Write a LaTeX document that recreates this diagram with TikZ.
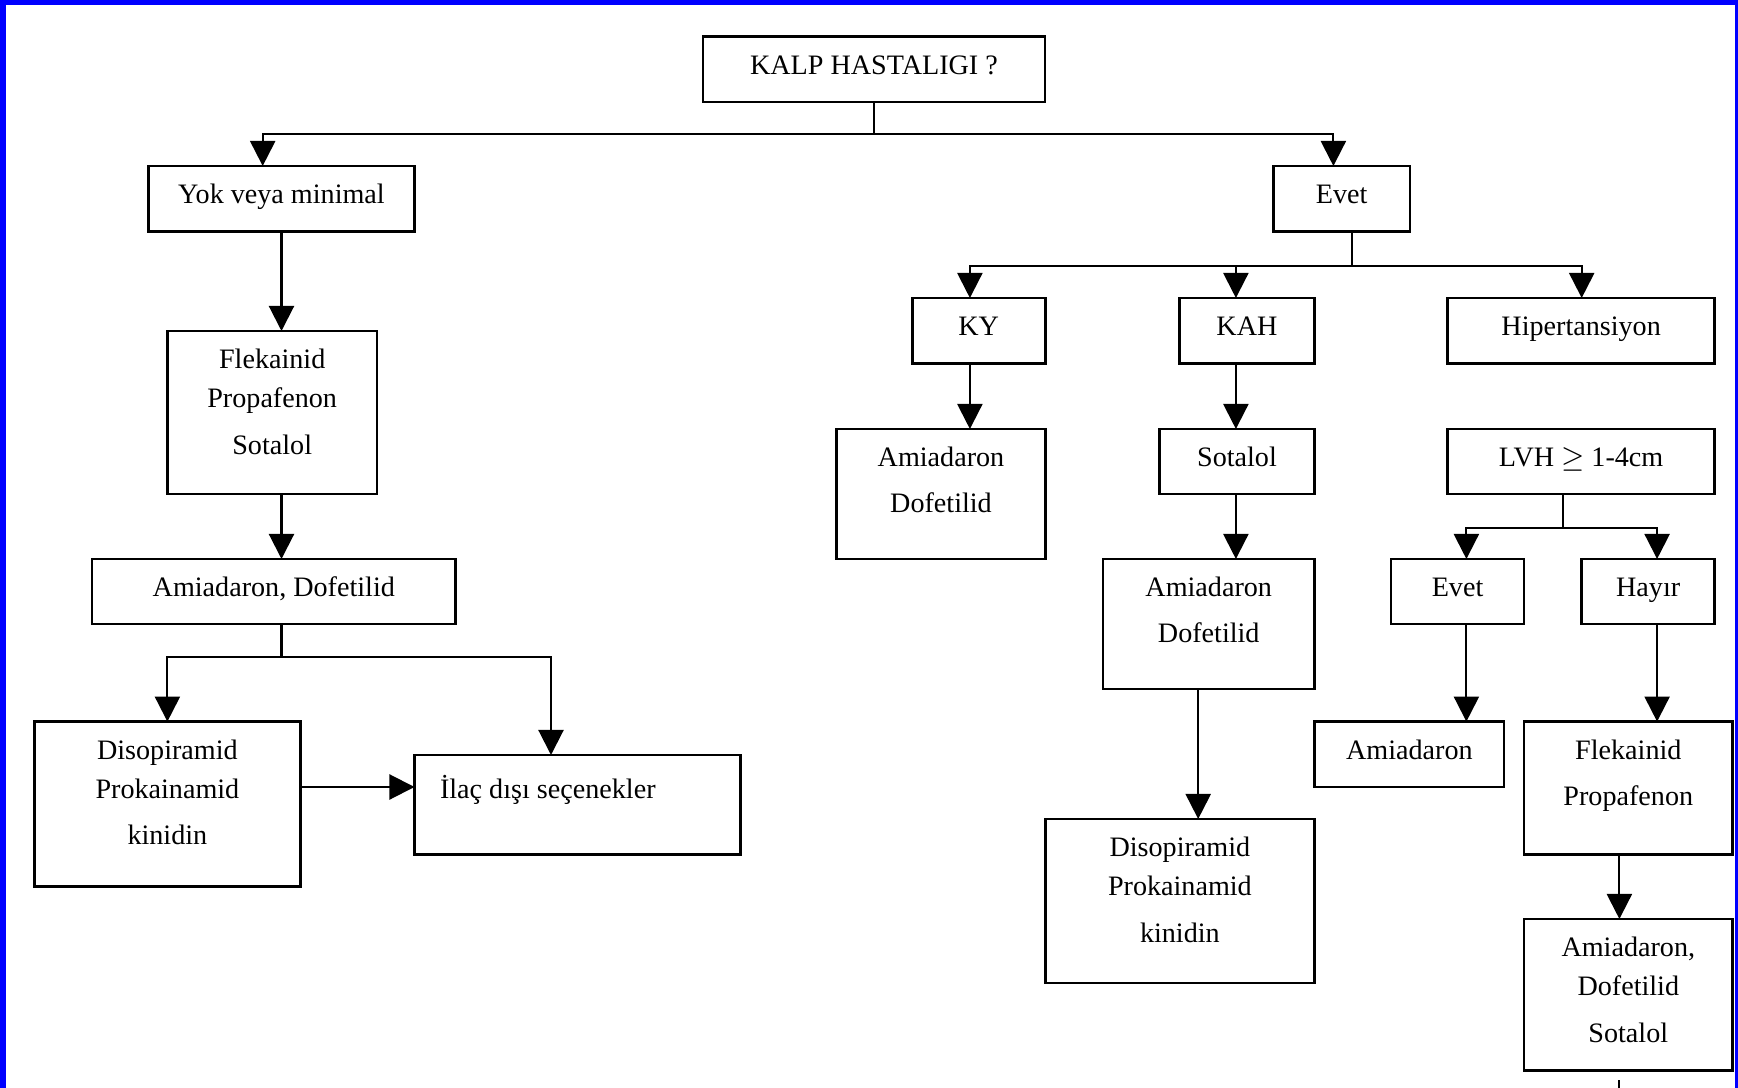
\documentclass[tikz,border=0pt]{standalone}
\usepackage{fontspec}
\setmainfont{Liberation Serif}
\usetikzlibrary{arrows.meta}

\definecolor{frameblue}{RGB}{0,0,255}

% box with its text set from the top edge
\newcommand\flowbox[6]{%
  \node[boxs, anchor=north west,
        minimum width={(#4-#2)*0.01cm}, minimum height={(#5-#3)*0.01cm}] (#1) at (#2,#3) {};
  \node[txt, anchor=north] (#1-t) at ([yshift=-0.126cm]#1.north) {\rule{0pt}{0.9em}#6};
}

\tikzset{
  boxs/.style={draw, line width=0.75pt, inner sep=0pt, outer sep=0pt, fill=white},
  txt/.style={inner sep=0pt, outer sep=0pt, align=center,
              font=\fontsize{8pt}{13.1pt}\selectfont},
  conn/.style={line width=0.6pt},
  arr/.style={conn, -{Triangle[length=0.25cm, width=0.25cm]}}
}

\begin{document}
\begin{tikzpicture}[x=0.01cm, y=-0.01cm]
\useasboundingbox (0,0) rectangle (1738,1088);
\fill[white] (0,0) rectangle (1738,1088);

% frame
\fill[frameblue] (0,0) rectangle (6,1088);
\fill[frameblue] (0,0) rectangle (1738,5.5);
\fill[frameblue] (1735,0) rectangle (1738,1088);

% boxes
\flowbox{kalp}{703}{36.6}{1045}{102}{KALP HASTALIGI ?}
\flowbox{yok}{148.5}{166}{414.5}{231.7}{Yok veya minimal}
\flowbox{evetA}{1273.5}{166}{1410}{231.7}{Evet}

\flowbox{flek}{167.4}{331}{377}{494}{Flekainid\\[-0.07cm]Propafenon\\Sotalol}
\flowbox{amdo}{92}{559}{455.6}{624}{Amiadaron, Dofetilid}
\flowbox{diso1}{34.4}{721.6}{300.4}{886.7}{Disopiramid\\[-0.07cm]Prokainamid\\kinidin}
\node[boxs, anchor=north west, minimum width=3.259cm, minimum height=0.996cm] (ilac) at (414.5,755) {};
\node[txt, anchor=north west, align=left] (ilac-t) at ([xshift=0.255cm, yshift=-0.186cm]ilac.north west) {\rule{0pt}{0.9em}İlaç dışı seçenekler};

\flowbox{ky}{912.2}{298}{1045.2}{363.6}{KY}
\flowbox{kyam}{836.8}{429}{1045.2}{559}{Amiadaron\\Dofetilid}
\flowbox{kah}{1179.3}{298}{1314.6}{363.6}{KAH}
\flowbox{sot}{1159.4}{429}{1314.6}{494}{Sotalol}
\flowbox{kaham}{1102.9}{559}{1314.6}{689}{Amiadaron\\Dofetilid}
\flowbox{diso2}{1045.2}{819}{1314.6}{983}{Disopiramid\\[-0.07cm]Prokainamid\\kinidin}

\flowbox{hip}{1447.6}{298}{1714.7}{363.6}{Hipertansiyon}
\flowbox{lvh}{1447.6}{429}{1714.7}{494}{LVH $\geq$ 1-4cm}
\flowbox{evetB}{1391}{559}{1524.1}{624}{Evet}
\flowbox{hayir}{1581.7}{559}{1714.7}{624}{Hayır}
\flowbox{amio}{1314.6}{721.6}{1504.1}{787}{Amiadaron}
\flowbox{flpr}{1524.1}{721.6}{1732.5}{854.6}{Flekainid\\Propafenon}
\flowbox{ads}{1524.1}{919}{1732.5}{1070.7}{Amiadaron,\\[-0.07cm]Dofetilid\\Sotalol}

% top split
\coordinate (j1) at (kalp.south |- 0,134);
\draw[conn] (kalp.south) -- (j1);
\draw[arr] (j1) -| (262.7,0 |- yok.north);
\draw[arr] (j1) -| (1333.4,0 |- evetA.north);

% left branch
\draw[arr] (281.5,0 |- yok.south) -- (281.5,0 |- flek.north);
\draw[arr] (281.5,0 |- flek.south) -- (281.5,0 |- amdo.north);
\coordinate (j2) at (281.5,657);
\draw[conn] (281.5,0 |- amdo.south) -- (j2);
\draw[arr] (j2) -| (diso1.north);
\draw[arr] (j2) -| (551,0 |- ilac.north);
\draw[arr] (diso1.east |- 0,787) -- (ilac.west |- 0,787);

% right branch
\coordinate (j3) at (1352.2,266);
\draw[conn] (1352.2,0 |- evetA.south) -- (j3);
\draw[arr] (j3) -| (969.9,0 |- ky.north);
\draw[arr] (j3) -| (1235.9,0 |- kah.north);
\draw[arr] (j3) -| (1581.7,0 |- hip.north);

\draw[arr] (969.9,0 |- ky.south) -- (969.9,0 |- kyam.north);
\draw[arr] (1235.9,0 |- kah.south) -- (1235.9,0 |- sot.north);
\draw[arr] (1235.9,0 |- sot.south) -- (1235.9,0 |- kaham.north);
\draw[arr] (1198.2,0 |- kaham.south) -- (1198.2,0 |- diso2.north);

\coordinate (j4) at (1562.8,527.6);
\draw[conn] (1562.8,0 |- lvh.south) -- (j4);
\draw[arr] (j4) -| (1466.4,0 |- evetB.north);
\draw[arr] (j4) -| (1657.1,0 |- hayir.north);
\draw[arr] (1466.4,0 |- evetB.south) -- (1466.4,0 |- amio.north);
\draw[arr] (1657.1,0 |- hayir.south) -- (1657.1,0 |- flpr.north);
\draw[arr] (1619.4,0 |- flpr.south) -- (1619.4,0 |- ads.north);

% line leaving the lower edge
\coordinate (s1) at (1619.4,1080);
\coordinate (s2) at (1619.4,1088);
\draw[conn] (s1) -- (s2);
\end{tikzpicture}
\end{document}
